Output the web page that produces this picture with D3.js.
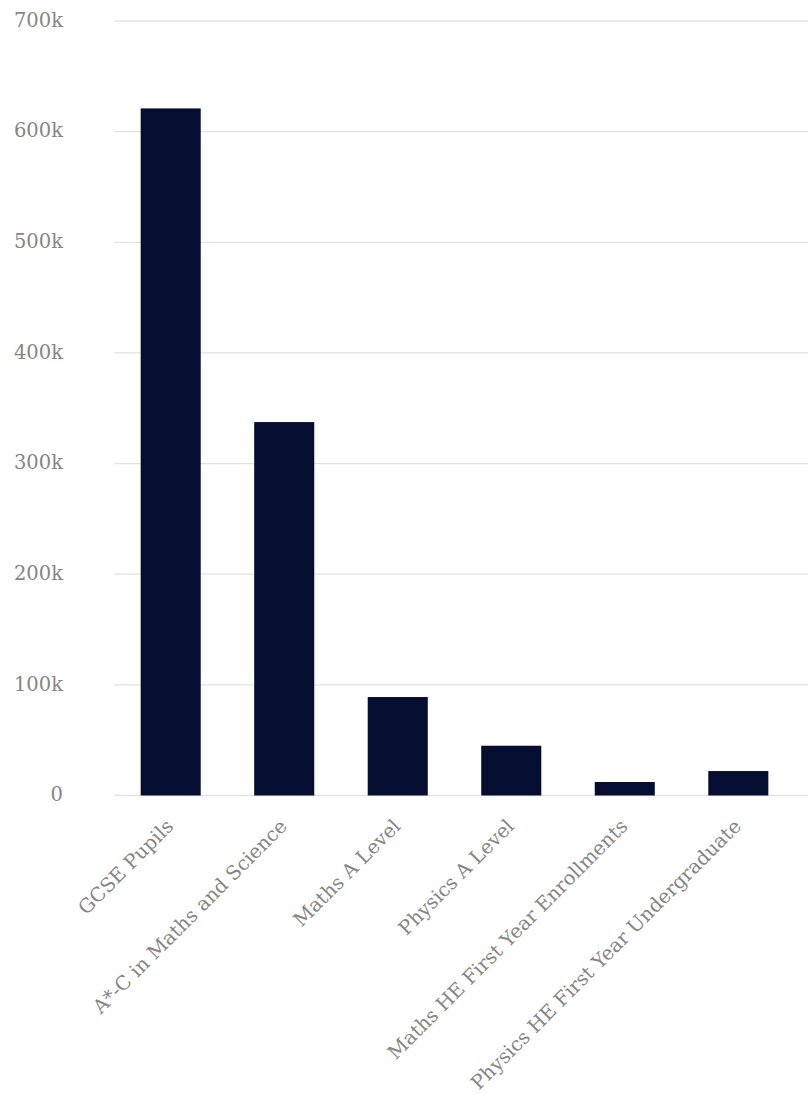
<!DOCTYPE html>
<html>
<head>
<meta charset="utf-8">
<script src="https://cdn.jsdelivr.net/npm/d3@7"></script>
<style>
  html, body { margin: 0; padding: 0; background: #fff; }
  svg { display: block; }
  .lbl { font-family: "DejaVu Serif", "Liberation Serif", serif; fill: #868686; font-variant-numeric: oldstyle-nums; }
</style>
</head>
<body>
<div id="chart"></div>
<script>
// Student numbers at each stage of the maths/physics pipeline
const categories = [
  "GCSE Pupils",
  "A*-C in Maths and Science",
  "Maths A Level",
  "Physics A Level",
  "Maths HE First Year Enrollments",
  "Physics HE First Year Undergraduate"
];
const values = [621000, 337500, 89000, 45000, 12200, 22100];
const yTicks = [0, 100000, 200000, 300000, 400000, 500000, 600000, 700000];
const yTickLabels = ["0", "100k", "200k", "300k", "400k", "500k", "600k", "700k"];

const width = 808, height = 1095;
const margin = { top: 21, right: 13, bottom: 299.5, left: 114 };

const svg = d3.select("#chart").append("svg")
  .attr("width", width)
  .attr("height", height);

const x = d3.scaleBand()
  .domain(categories)
  .range([margin.left, width - margin.right])
  .paddingInner(0.471)
  .paddingOuter(0.235);

const y = d3.scaleLinear()
  .domain([0, 700000])
  .range([height - margin.bottom, margin.top]);

// horizontal gridlines
svg.append("g")
  .selectAll("line")
  .data(yTicks)
  .join("line")
  .attr("x1", margin.left)
  .attr("x2", width)
  .attr("y1", d => y(d))
  .attr("y2", d => y(d))
  .attr("stroke", "#e2e2e2")
  .attr("stroke-width", 1.3);

// y tick labels
svg.append("g")
  .selectAll("text")
  .data(yTicks)
  .join("text")
  .attr("class", "lbl")
  .attr("x", 63)
  .attr("y", d => y(d))
  .attr("dy", "0.3em")
  .attr("text-anchor", "end")
  .attr("font-size", 19.5)
  .text((d, i) => yTickLabels[i]);

// bars
svg.append("g")
  .selectAll("rect")
  .data(categories)
  .join("rect")
  .attr("x", d => x(d))
  .attr("width", x.bandwidth())
  .attr("y", (d, i) => y(values[i]))
  .attr("height", (d, i) => y(0) - y(values[i]))
  .attr("fill", "#050e30");

// rotated category labels
svg.append("g")
  .selectAll("text")
  .data(categories)
  .join("text")
  .attr("class", "lbl")
  .attr("font-size", 19.5)
  .attr("text-anchor", "end")
  .attr("transform", d => {
    const cx = x(d) + x.bandwidth() / 2 + 4;
    const cy = y(0) + 32;
    return `translate(${cx},${cy}) rotate(-45)`;
  })
  .text(d => d);
</script>
</body>
</html>
